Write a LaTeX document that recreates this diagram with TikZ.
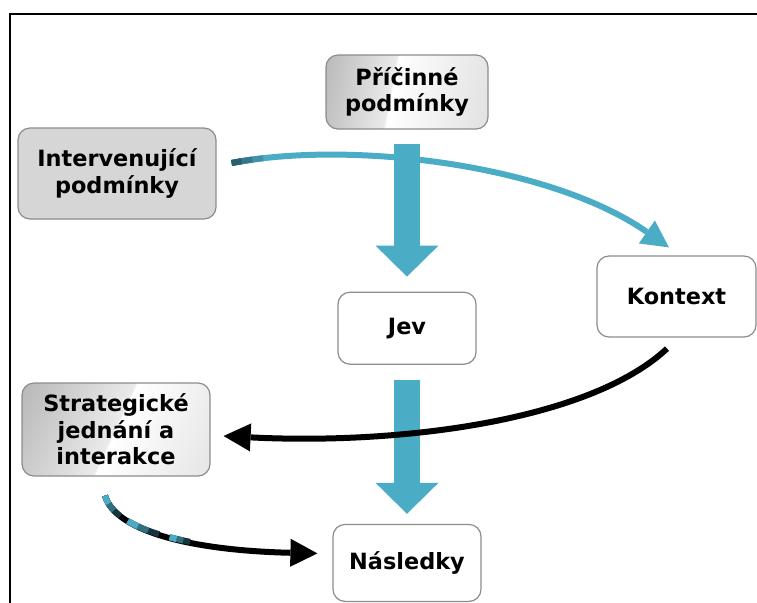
\documentclass[tikz,border=0pt]{standalone}
\usepackage{fontspec}
\setsansfont{DejaVu Sans}
\tikzset{every picture/.style={/utils/exec={\sffamily\bfseries}}}
\usetikzlibrary{calc}
\usetikzlibrary{positioning}
\usetikzlibrary{arrows.meta}

\definecolor{accent}{RGB}{75,172,198}
\definecolor{boxline}{RGB}{140,140,140}

\pgfdeclarehorizontalshading{shinepric}{100bp}{color(0bp)=(black!30); color(20bp)=(black!28); color(44.5bp)=(black!8); color(45bp)=(white); color(80bp)=(black!12); color(100bp)=(black!12)}
\pgfdeclarehorizontalshading{shinestrat}{100bp}{color(0bp)=(black!30); color(17bp)=(black!28); color(49.5bp)=(black!8); color(50bp)=(white); color(83bp)=(black!10); color(100bp)=(black!10)}

\begin{document}
\begin{tikzpicture}[x=0.5pt, y=-0.5pt,
  box/.style={draw=boxline, line width=0.6pt, rounded corners=6pt, align=center, inner sep=0pt, font=\fontsize{11.2}{13.2}\selectfont},
  plain/.style={box, fill=white},
  flat/.style={box, fill=black!16},
  shinea/.style={box, shade, shading=shinepric, shading angle=-10.5},
  shineb/.style={box, shade, shading=shinestrat, shading angle=-24.8},
  block/.style={draw=accent, line width=13pt, -{Triangle[length=15.5pt, width=31.5pt, line width=0pt]}},
  curve/.style={line width=3pt, -{Triangle[length=13.5pt, width=14pt, line width=0pt]}}]

  \useasboundingbox (0,0) rectangle (757,602);
  \fill[white] (0,0) rectangle (757,602);
  \draw[line width=1pt] (10,640) |- (800,14);

  \node[shinea, minimum width=81pt, minimum height=37pt] (pric) at (407,92) {Příčinné\\podmínky};
  \node[flat, minimum width=99pt, minimum height=45.5pt] (inter) at (117,173.5) {Intervenující\\podmínky};
  \node[plain, minimum width=69pt, minimum height=36pt, below=81pt of pric] (jev) {Jev};
  \node[plain, minimum width=79.5pt, minimum height=40.5pt] (kontext) at (676.5,296.5) {Kontext};
  \node[shineb, minimum width=94pt, minimum height=46.5pt] (strat) at (116,429.5) {Strategické\\jednání a\\interakce};
  \node[plain, minimum width=74pt, minimum height=38.5pt, below=79.5pt of jev] (nasl) {Následky};

  \draw[curve, accent, postaction={draw=accent!85!black, -, dash pattern=on 16pt off 900pt}, postaction={draw=accent!70!black, -, dash pattern=on 10.5pt off 900pt}, postaction={draw=accent!55!black, -, dash pattern=on 5pt off 900pt}]
    ([shift={(15,-10.5)}]inter.east) .. controls +(119,-23) and +(-119,-83) .. ([shift={(-7.5,-8)}]kontext.north);

  \draw[block] ([shift={(0,14)}]pric.south) -- ([shift={(0,-15)}]jev.north);
  \draw[block] ([shift={(0,15)}]jev.south) -- ([shift={(0,-10)}]nasl.north);

  \draw[curve, black] ([shift={(-9.5,11)}]kontext.south) .. controls +(-77,72) and +(177,9) .. ([shift={(13,6.5)}]strat.east);

  \draw[curve, black, postaction={draw=accent!30!black, -, dash pattern=on 13pt off 4.5pt on 17pt off 5.5pt on 10.5pt off 900pt}, postaction={draw=accent!65!black, -, dash pattern=on 8.75pt off 8.75pt on 11.25pt off 11.25pt on 7pt off 900pt}, postaction={draw=accent, -, dash pattern=on 4.4pt off 13.1pt on 5.6pt off 16.9pt on 3.5pt off 900pt}]
    ([shift={(-11,19)}]strat.south) .. controls +(10,35) and +(-128,-3) .. ([shift={(-15,-9.5)}]nasl.west);
\end{tikzpicture}
\end{document}
